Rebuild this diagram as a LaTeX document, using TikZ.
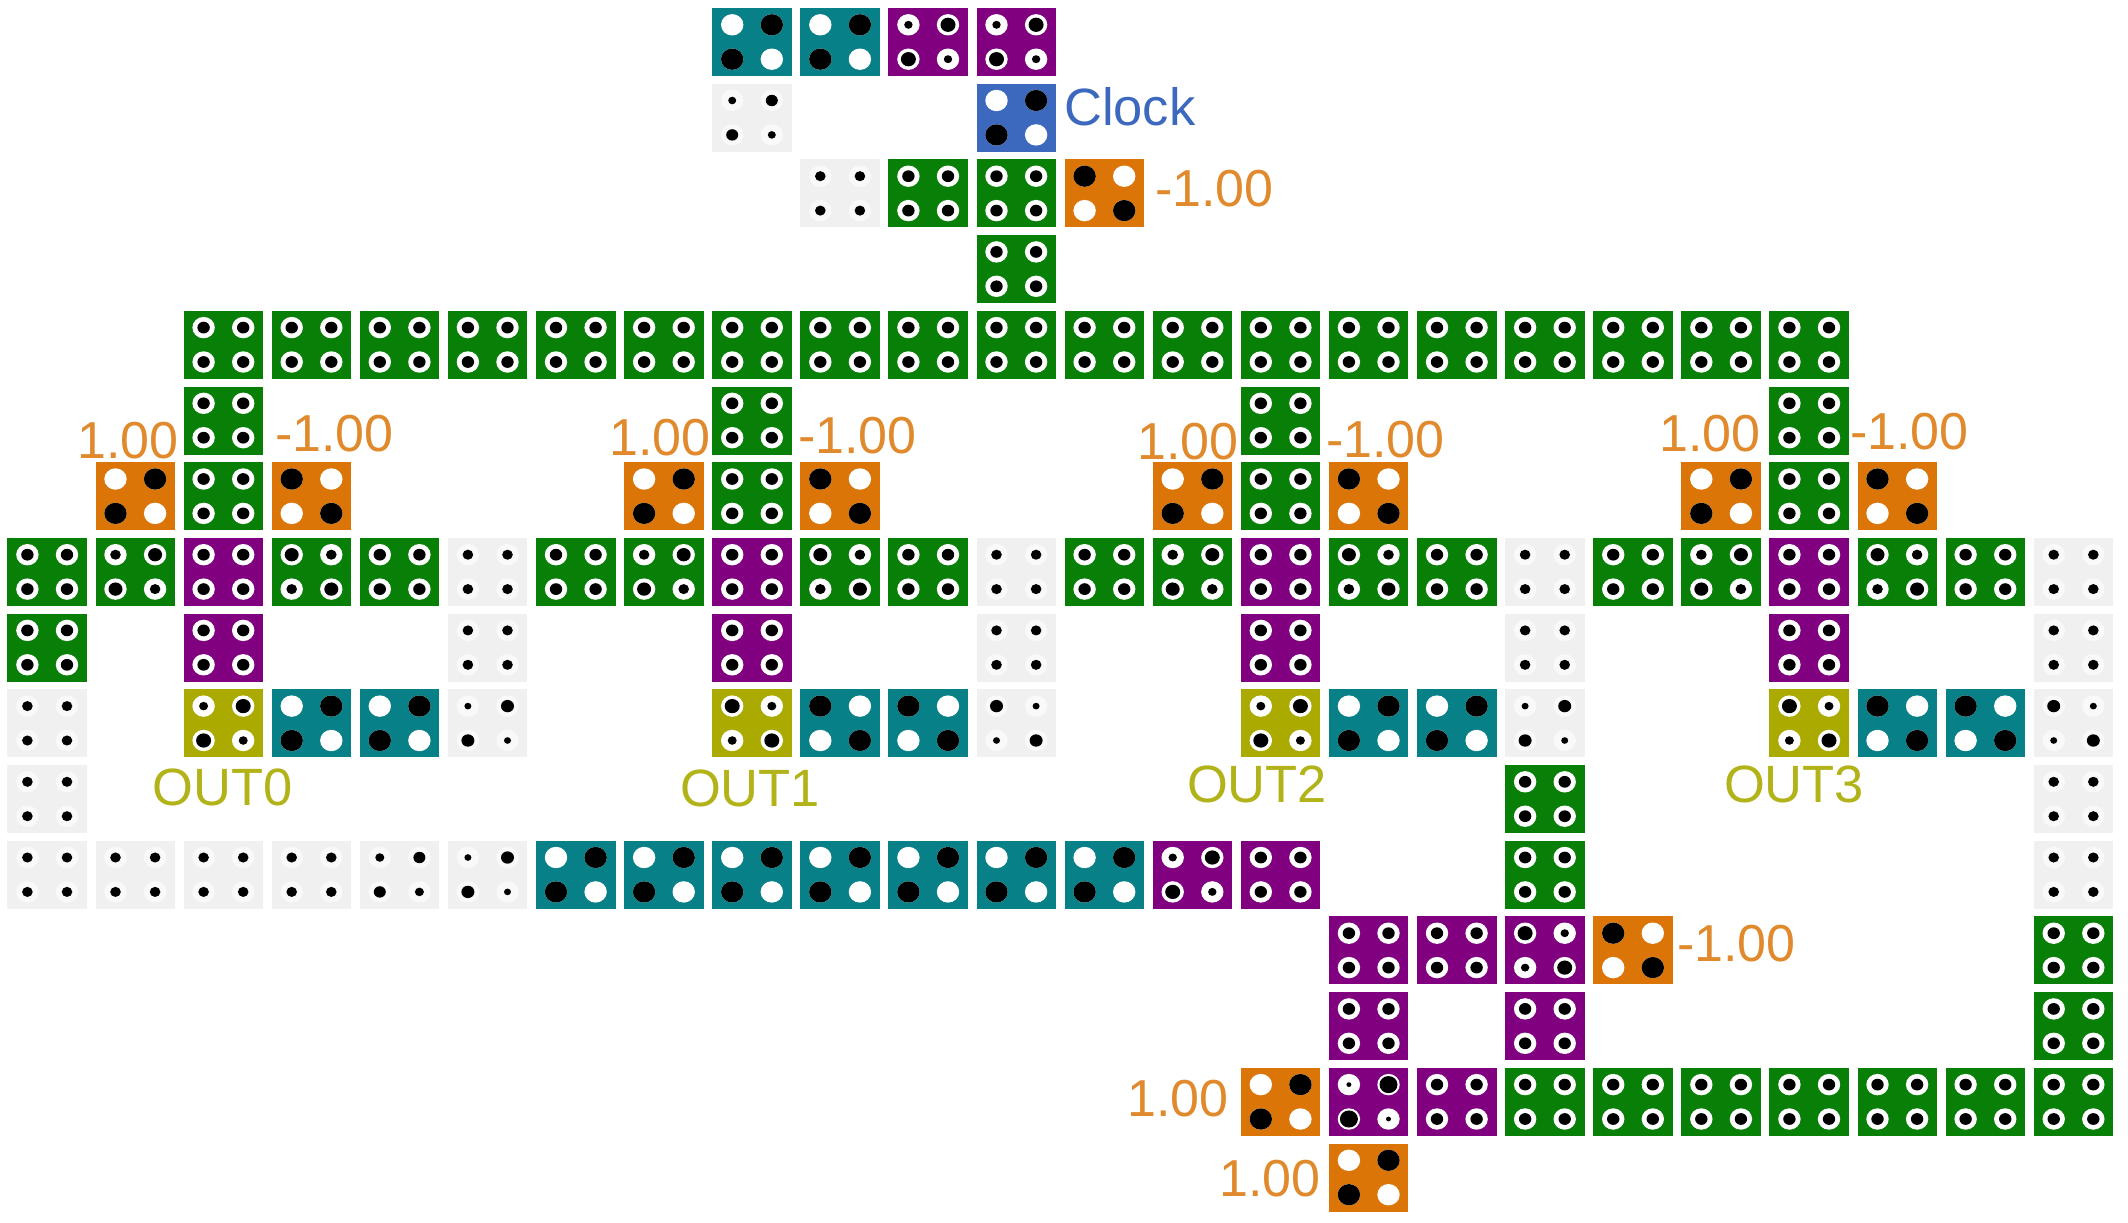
\documentclass[tikz,border=0pt]{standalone}
\usepackage{fontspec}
\setmainfont{Liberation Sans}
\definecolor{vgreen}{RGB}{8,128,8}
\definecolor{vpurple}{RGB}{128,0,128}
\definecolor{vteal}{RGB}{8,128,136}
\definecolor{volive}{RGB}{170,170,0}
\definecolor{vorange}{RGB}{219,117,8}
\definecolor{vblue}{RGB}{60,105,190}
\definecolor{vgray}{RGB}{240,240,240}
\tikzset{
  tile/.style={rectangle,inner sep=0pt,minimum width=79.5pt,minimum height=68pt},
  vallabel/.style={inner sep=0pt,text=vorange!85!white,font=\fontsize{52}{60}\selectfont},
  outlabel/.style={inner sep=0pt,text=volive!90!white,font=\fontsize{52.5}{60}\selectfont},
}
\newcommand{\holefill}{white}
% #1 col, #2 row, #3 colour, #4 dot at TL/BR, #5 dot at TR/BL
\newcommand{\tile}[5]{
  \node[tile,fill=#3] (t#1-#2) at ({47.2+88.1*#1},{42+75.7*#2}) {};
  \foreach \sx/\sy/\dr in {-1/-1/#4,1/-1/#5,-1/1/#5,1/1/#4} {
    \fill[\holefill] (t#1-#2.center) ++(\sx*19.8,\sy*17.2)
      ellipse[x radius=11.2pt,y radius=10.7pt];
    \fill[black] (t#1-#2.center) ++(\sx*19.8,\sy*17.2)
      ellipse[x radius=\dr pt,y radius=0.95*\dr pt];
  }
}
\begin{document}
\begin{tikzpicture}[x=1pt,y=-1pt]
\useasboundingbox (0,0) rectangle (2128,1223);
% plain green
\foreach \c in {2,...,20} {\tile{\c}{4}{vgreen}{6.2}{6.2}}
\foreach \c in {17,...,23} {\tile{\c}{14}{vgreen}{6.2}{6.2}}
\foreach \c/\r in {10/2,11/2,11/3,2/5,8/5,14/5,20/5,2/6,8/6,14/6,20/6,
  0/7,4/7,6/7,10/7,12/7,16/7,18/7,22/7,0/8,17/10,17/11,23/12,23/13}
  {\tile{\c}{\r}{vgreen}{6.2}{6.2}}
\foreach \c in {1,7,13,19} {\tile{\c}{7}{vgreen}{5.3}{7}}
\foreach \c in {3,9,15,21} {\tile{\c}{7}{vgreen}{7}{5.3}}
% purple
\foreach \c/\r in {2/7,8/7,14/7,20/7,2/8,8/8,14/8,20/8,14/11,15/12,16/12,
  15/13,17/13,16/14}
  {\tile{\c}{\r}{vpurple}{6.2}{6.2}}
\foreach \c/\r in {10/0,11/0,13/11} {\tile{\c}{\r}{vpurple}{4.2}{7.5}}
\tile{17}{12}{vpurple}{7.5}{4.2}
\tile{15}{14}{vpurple}{2.5}{9}
% olive
\foreach \c in {2,14} {\tile{\c}{9}{volive}{4.5}{7.5}}
\foreach \c in {8,20} {\tile{\c}{9}{volive}{7.5}{4.5}}
% teal
\foreach \c/\r in {8/0,9/0,3/9,4/9,15/9,16/9,6/11,7/11,8/11,9/11,10/11,11/11,12/11}
  {\tile{\c}{\r}{vteal}{0.01}{11.2}}
\foreach \c in {9,10,21,22} {\tile{\c}{9}{vteal}{11.2}{0.01}}
% orange
\foreach \c/\r in {1/6,7/6,13/6,19/6,14/14,15/15} {\tile{\c}{\r}{vorange}{0.01}{11.2}}
\foreach \c/\r in {12/2,3/6,9/6,15/6,21/6,18/12} {\tile{\c}{\r}{vorange}{11.2}{0.01}}
\tile{11}{1}{vblue}{0.01}{11.2}
% empty ones
\begin{scope}
\renewcommand{\holefill}{vgray!40!white}
\foreach \c/\r in {9/2,5/7,11/7,17/7,23/7,5/8,11/8,17/8,23/8,0/9,0/10,23/10,
  23/11,0/11,1/11,2/11,3/11}
  {\tile{\c}{\r}{vgray}{5.3}{5.3}}
\tile{8}{1}{vgray}{4}{6}
\tile{4}{11}{vgray}{4.5}{6}
\foreach \c/\r in {5/9,17/9,5/11} {\tile{\c}{\r}{vgray}{3.5}{6.5}}
\foreach \c in {11,23} {\tile{\c}{9}{vgray}{6.5}{3.5}}
\end{scope}
% labels
\node[inner sep=0pt,anchor=west,text=vblue,font=\fontsize{52.5}{60}\selectfont]
  (clock) at (1064,107) {Clock};
\node[vallabel,anchor=west] (v12) at (1155,189) {-1.00};
\node[vallabel,anchor=east] (a1) at (179,441) {1.00};
\node[vallabel,anchor=west] (b1) at (275,434) {-1.00};
\node[vallabel,anchor=east] (a7) at (711,438) {1.00};
\node[vallabel,anchor=west] (b7) at (798,436) {-1.00};
\node[vallabel,anchor=east] (a13) at (1239,442) {1.00};
\node[vallabel,anchor=west] (b13) at (1326,440) {-1.00};
\node[vallabel,anchor=east] (a19) at (1761,434) {1.00};
\node[vallabel,anchor=west] (b19) at (1850,432) {-1.00};
\node[vallabel,anchor=west] (v18) at (1677,944) {-1.00};
\node[vallabel,anchor=east] (v14) at (1229,1099) {1.00};
\node[vallabel,anchor=east] (v15) at (1321,1179) {1.00};
\node[outlabel] (out0) at (223,787) {OUT0};
\node[outlabel] (out1) at (750,788) {OUT1};
\node[outlabel] (out2) at (1257,784) {OUT2};
\node[outlabel] (out3) at (1794,784) {OUT3};
\end{tikzpicture}
\end{document}
